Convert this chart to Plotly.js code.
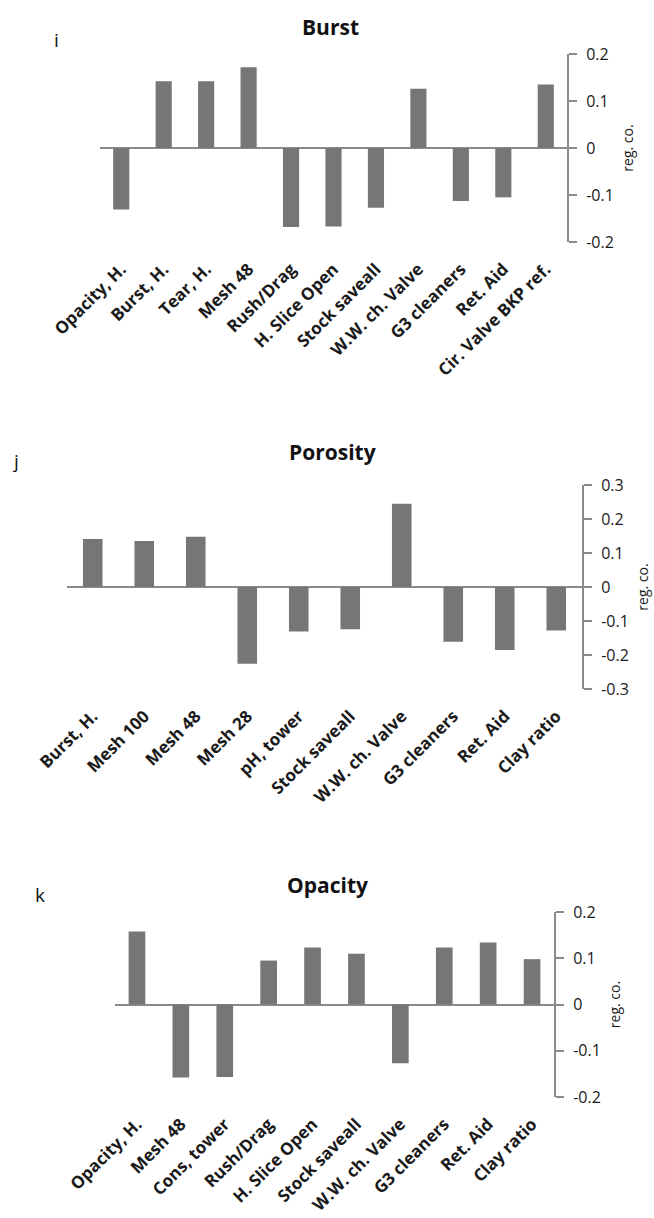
<!DOCTYPE html>
<html>
<head>
<meta charset="utf-8">
<script src="https://cdn.plot.ly/plotly-3.0.1.min.js"></script>
<style>
  html, body { margin: 0; padding: 0; background: #fff; }
  #chart { width: 654px; height: 1218px; }
</style>
</head>
<body>
<div id="chart"></div>
<script>
// Regression coefficients for three paper properties
const burstFactors = ['Opacity, H.', 'Burst, H.', 'Tear, H.', 'Mesh 48', 'Rush/Drag', 'H. Slice Open',
  'Stock saveall', 'W.W. ch. Valve', 'G3 cleaners', 'Ret. Aid', 'Cir. Valve BKP ref.'];
const burstCoef = [-0.131, 0.142, 0.142, 0.172, -0.168, -0.167, -0.127, 0.126, -0.113, -0.105, 0.135];

const porosityFactors = ['Burst, H.', 'Mesh 100', 'Mesh 48', 'Mesh 28', 'pH, tower', 'Stock saveall',
  'W.W. ch. Valve', 'G3 cleaners', 'Ret. Aid', 'Clay ratio'];
const porosityCoef = [0.141, 0.135, 0.148, -0.226, -0.131, -0.124, 0.245, -0.161, -0.185, -0.128];

const opacityFactors = ['Opacity, H.', 'Mesh 48', 'Cons, tower', 'Rush/Drag', 'H. Slice Open', 'Stock saveall',
  'W.W. ch. Valve', 'G3 cleaners', 'Ret. Aid', 'Clay ratio'];
const opacityCoef = [0.158, -0.158, -0.157, 0.095, 0.123, 0.110, -0.127, 0.123, 0.134, 0.098];

const tickI = [-0.2, -0.1, 0, 0.1, 0.2];
const tickTextI = ['-0.2', '-0.1', '0', '0.1', '0.2'];
const tickJ = [-0.3, -0.2, -0.1, 0, 0.1, 0.2, 0.3];
const tickTextJ = ['-0.3', '-0.2', '-0.1', '0', '0.1', '0.2', '0.3'];

const W = 654, H = 1218;
const px = v => v / W;
const py = v => 1 - v / H;

const BAR = '#767676';
const AX = '#8a8a8a';
const FONT = '"Open Sans", Lato, sans-serif';

function bar(x, y, xa, ya) {
  return { type: 'bar', x: x, y: y, xaxis: xa, yaxis: ya,
    marker: { color: BAR, line: { width: 0 } }, hoverinfo: 'x+y' };
}

function xAxis(domain, anchor) {
  return {
    domain: domain, anchor: anchor, type: 'category',
    showline: false, showgrid: false, zeroline: false, ticks: '',
    tickangle: -45, ticklabelstandoff: 13,
    tickfont: { family: FONT, size: 17, color: '#1a1a1a', weight: 'bold' },
    fixedrange: true
  };
}

function yAxis(domain, anchor, range, vals, texts) {
  return {
    domain: domain, anchor: anchor, side: 'right', range: range,
    tickvals: vals, ticktext: texts,
    showline: true, linecolor: AX, linewidth: 2,
    ticks: 'outside', ticklen: 8, tickwidth: 2, tickcolor: AX,
    ticklabelstandoff: 6,
    showgrid: false, zeroline: true, zerolinecolor: AX, zerolinewidth: 2,
    tickfont: { family: FONT, size: 16, color: '#1a1a1a' },
    title: { text: 'reg. co.', standoff: 10, font: { family: FONT, size: 14, color: '#1a1a1a' } },
    fixedrange: true
  };
}

const data = [
  bar(burstFactors, burstCoef, 'x', 'y'),
  bar(porosityFactors, porosityCoef, 'x2', 'y2'),
  bar(opacityFactors, opacityCoef, 'x3', 'y3')
];

function label(text, x, y, size, bold) {
  return { text: text, xref: 'paper', yref: 'paper', x: px(x), y: py(y),
    xanchor: 'center', yanchor: 'middle', showarrow: false,
    font: { family: FONT, size: size, color: '#111', weight: bold ? 'bold' : 'normal' } };
}

const layout = {
  width: W, height: H,
  margin: { l: 0, r: 0, t: 0, b: 0 },
  paper_bgcolor: '#fff', plot_bgcolor: '#fff',
  showlegend: false,
  bargap: 0.62,
  xaxis: xAxis([px(100), px(567)], 'y'),
  yaxis: yAxis([py(242), py(54)], 'x', [-0.2, 0.2], tickI, tickTextI),
  xaxis2: xAxis([px(67), px(582)], 'y2'),
  yaxis2: yAxis([py(689), py(485)], 'x2', [-0.3, 0.3], tickJ, tickTextJ),
  xaxis3: xAxis([px(115), px(554)], 'y3'),
  yaxis3: yAxis([py(1097), py(912)], 'x3', [-0.2, 0.2], tickI, tickTextI),
  annotations: [
    label('Burst', 330, 27, 21, true),
    label('Porosity', 333, 452, 21, true),
    label('Opacity', 327, 885, 21, true),
    label('i', 56, 40, 19, false),
    label('j', 15, 461, 19, false),
    label('k', 40, 895, 19, false)
  ]
};

Plotly.newPlot('chart', data, layout, { displayModeBar: false, staticPlot: true });
</script>
</body>
</html>
